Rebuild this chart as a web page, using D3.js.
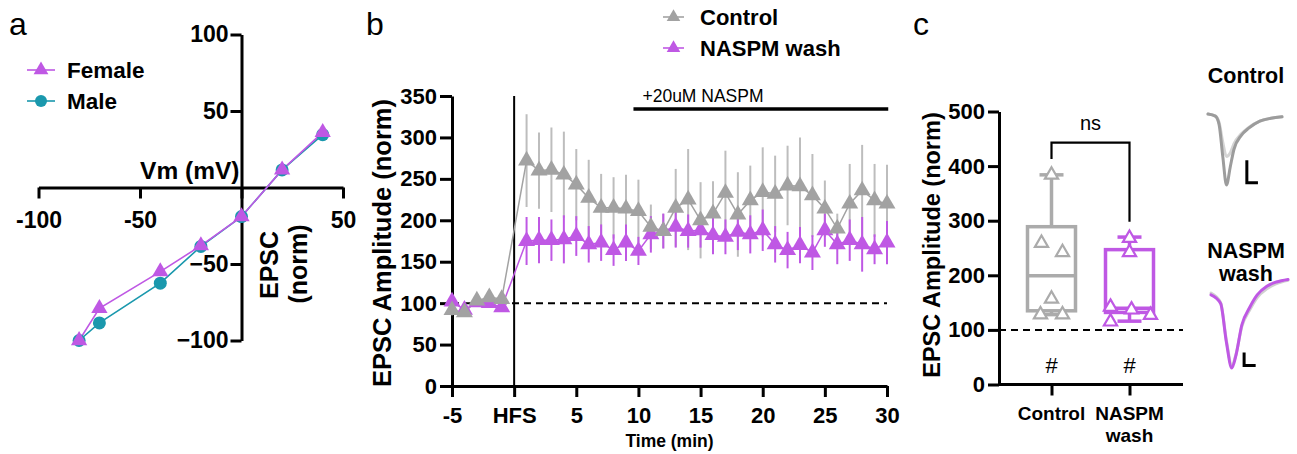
<!DOCTYPE html>
<html>
<head>
<meta charset="utf-8">
<script src="https://cdn.jsdelivr.net/npm/d3@7"></script>
<style>
  body { margin: 0; background: #fff; }
  svg { display: block; }
  text { font-family: "Liberation Sans", Arial, sans-serif; }
</style>
</head>
<body>
<div id="chart"></div>
<script>
// ---- panel a : I-V relation ----
var ivVoltage = [-80, -70, -40, -20, 0, 20, 40];
var ivFemale  = [-100, -79, -55, -38, -19, 11.5, 36];
var ivMale    = [-100, -88.5, -62.5, -38.5, -19, 11.5, 34.5];

// ---- panel b : time course ----
var timeMin = [-5, -4, -3, -2, -1, 1, 2, 3, 4, 5, 6, 7, 8, 9, 10, 11, 12, 13, 14, 15,
               16, 17, 18, 19, 20, 21, 22, 23, 24, 25, 26, 27, 28, 29, 30];
var controlMean = [91.5, 89, 103, 107, 105,
                   272, 260, 261, 255, 243, 227, 215, 215, 214, 211, 192, 187, 215, 225, 200,
                   208, 233, 207, 224, 234, 232, 242, 241, 230, 214, 190, 220, 236, 224, 220];
var controlErr  = [6, 5, 5, 6, 6,
                   56, 46, 51, 52, 43, 46, 41, 37, 41, 38, 27, 21, 47, 61, 46,
                   39, 51, 51, 42, 54, 46, 48, 59, 50, 34, 18, 48, 55, 44, 47];
var naspmMean   = [102, 92, 101, 100, 95,
                   175, 176, 176, 177, 181, 171, 173, 164, 173, 163, 183, 187, 192, 187, 188,
                   182, 180, 186, 183, 188, 171, 164, 170, 161, 188, 171, 176, 171, 165, 173];
var naspmErr    = [8, 4, 4, 4, 5,
                   29, 28, 25, 29, 24, 22, 22, 19, 22, 17, 22, 21, 25, 20, 21,
                   23, 21, 22, 23, 25, 22, 22, 22, 21, 20, 24, 25, 33, 18, 26];
var timeTicks = [-5, 0, 5, 10, 15, 20, 25, 30];
var naspmPeriod = [9.6, 30.1];

// ---- panel c : box plots ----
var groups = ["Control", "NASPM wash"];
var groupPoints = [[384, 259, 242, 157, 128, 128], [268, 242, 142, 115, 137, 127]];
var boxMin = [128, 116];
var boxQ1  = [135, 132];
var boxMed = [199, 139.5];
var boxQ3  = [289, 247];
var boxMax = [384, 270];
var bracketTop = 443;
var bracketLegs = [413, 298];

// ---- example traces (normalised current vs ms) ----
var traceT = [0, 2, 3, 4, 5, 6, 7, 9, 11, 14, 17, 20];
var ctrlTraceA = [0, -0.03, -0.15, -0.6, -1.0, -0.75, -0.5, -0.3, -0.2, -0.1, -0.06, -0.04];
var ctrlTraceB = [0, -0.03, -0.12, -0.4, -0.6, -0.55, -0.42, -0.28, -0.19, -0.1, -0.06, -0.04];
var naspmTraceT = [0, 2.5, 4, 5.4, 6.5, 8, 10, 12, 14.5, 17, 20];
var naspmTraceA = [-0.15, -0.25, -0.7, -1.0, -0.85, -0.5, -0.3, -0.15, -0.05, 0.0, 0.03];
var naspmTraceB = [-0.13, -0.24, -0.68, -0.97, -0.84, -0.52, -0.33, -0.18, -0.08, -0.02, 0.02];

var purple = "#bf58e4", teal = "#1a98ad", grey = "#a2a2a2", greyLight = "#bdbdbd", greyBox = "#ababab";
var font = "'Liberation Sans', Arial, sans-serif";

var svg = d3.select("#chart").append("svg")
  .attr("width", 1297)
  .attr("height", 454);

function styleAxis(g, size) {
  g.attr("font-family", font).attr("font-size", size).attr("font-weight", "bold");
  g.selectAll("path.domain").attr("stroke-width", 3).attr("stroke", "#000");
  g.selectAll(".tick line").attr("stroke-width", 3).attr("stroke", "#000");
  g.selectAll(".tick text").attr("fill", "#000");
}

var tri = d3.symbol().type(d3.symbolTriangle);

// panel letters
[["a", 9], ["b", 366], ["c", 913]].forEach(function(p) {
  svg.append("text").attr("x", p[1]).attr("y", 35)
    .attr("font-size", 32).text(p[0]);
});

// =========== panel a ===========
var xa = d3.scaleLinear().domain([-100, 50]).range([38.5, 343]);
var ya = d3.scaleLinear().domain([-100, 100]).range([340.5, 34.5]);

svg.append("g")
  .attr("transform", "translate(0," + ya(0) + ")")
  .call(d3.axisBottom(xa).tickValues([-100, -50, 0, 50]).tickSize(11).tickSizeOuter(0).tickPadding(13)
    .tickFormat(function(d) { return d === 0 ? "" : d; }))
  .call(styleAxis, 23);

svg.append("g")
  .attr("transform", "translate(" + xa(0) + ",0)")
  .call(d3.axisLeft(ya).tickValues([-100, -50, 50, 100]).tickSize(11).tickSizeOuter(0).tickPadding(2))
  .call(styleAxis, 23);

svg.append("text").attr("x", xa(0) - 2).attr("y", ya(0) - 9)
  .attr("text-anchor", "end").attr("font-size", 24.5).attr("font-weight", "bold")
  .text("Vm (mV)");
svg.append("text").attr("transform", "translate(278," + 265 + ") rotate(-90)")
  .attr("text-anchor", "middle").attr("font-size", 25).attr("font-weight", "bold").text("EPSC");
svg.append("text").attr("transform", "translate(307," + 264 + ") rotate(-90)")
  .attr("text-anchor", "middle").attr("font-size", 25).attr("font-weight", "bold").text("(norm)");

var lineA = d3.line().x(function(d, i) { return xa(ivVoltage[i]); }).y(function(d) { return ya(d); });
svg.append("path").datum(ivMale).attr("d", lineA).attr("fill", "none").attr("stroke", teal).attr("stroke-width", 1.6);
svg.append("path").datum(ivFemale).attr("d", lineA).attr("fill", "none").attr("stroke", purple).attr("stroke-width", 1.6);
svg.selectAll(".maleDot").data(ivMale).enter().append("circle")
  .attr("cx", function(d, i) { return xa(ivVoltage[i]); })
  .attr("cy", function(d) { return ya(d); })
  .attr("r", 6.5).attr("fill", teal);
svg.selectAll(".femTri").data(ivFemale).enter().append("path")
  .attr("d", tri.size(115))
  .attr("transform", function(d, i) { return "translate(" + xa(ivVoltage[i]) + "," + ya(d) + ")"; })
  .attr("fill", purple);

// legend a
[["Female", purple, 70, "tri"], ["Male", teal, 101, "dot"]].forEach(function(l) {
  svg.append("line").attr("x1", 27).attr("x2", 55).attr("y1", l[2]).attr("y2", l[2])
    .attr("stroke", l[1]).attr("stroke-width", 1.6);
  if (l[3] === "tri") {
    svg.append("path").attr("d", tri.size(95)).attr("transform", "translate(41," + l[2] + ")").attr("fill", l[1]);
  } else {
    svg.append("circle").attr("cx", 41).attr("cy", l[2]).attr("r", 6).attr("fill", l[1]);
  }
  svg.append("text").attr("x", 67).attr("y", l[2] + 8).attr("font-size", 22.5)
    .attr("font-weight", "bold").text(l[0]);
});

// =========== panel b ===========
var xb = d3.scaleLinear().domain([-5, 30]).range([452, 887]);
var yb = d3.scaleLinear().domain([0, 350]).range([386, 96]);

svg.append("g")
  .attr("transform", "translate(0," + yb(0) + ")")
  .call(d3.axisBottom(xb).tickValues(timeTicks).tickSize(11).tickSizeOuter(0).tickPadding(10)
    .tickFormat(function(d) { return d === 0 ? "HFS" : d; }))
  .call(styleAxis, 22);
svg.append("g")
  .attr("transform", "translate(" + xb(-5) + ",0)")
  .call(d3.axisLeft(yb).tickValues(d3.range(0, 351, 50)).tickSize(12).tickSizeOuter(0).tickPadding(3))
  .call(styleAxis, 22);

svg.append("text").attr("transform", "translate(391," + 243 + ") rotate(-90)")
  .attr("text-anchor", "middle").attr("font-size", 25.5).attr("font-weight", "bold")
  .text("EPSC Amplitude (norm)");
svg.append("text").attr("x", xb(12.5)).attr("y", 447)
  .attr("text-anchor", "middle").attr("font-size", 17.5).attr("font-weight", "bold")
  .text("Time (min)");

// HFS marker and baseline
svg.append("line").attr("x1", xb(0)).attr("x2", xb(0)).attr("y1", yb(350)).attr("y2", yb(0))
  .attr("stroke", "#000").attr("stroke-width", 2);
svg.append("line").attr("x1", xb(-5)).attr("x2", xb(30)).attr("y1", yb(100)).attr("y2", yb(100))
  .attr("stroke", "#000").attr("stroke-width", 2).attr("stroke-dasharray", "7,5");

// NASPM bar
svg.append("line").attr("x1", xb(naspmPeriod[0])).attr("x2", xb(naspmPeriod[1]))
  .attr("y1", 109).attr("y2", 109).attr("stroke", "#000").attr("stroke-width", 3.5);
svg.append("text").attr("x", xb(naspmPeriod[0]) + 9).attr("y", 102)
  .attr("font-size", 17.5).text("+20uM NASPM");

function drawSeries(mean, err, color, barColor) {
  var g = svg.append("g");
  g.selectAll("line.err").data(mean).enter().append("line")
    .attr("x1", function(d, i) { return xb(timeMin[i]); })
    .attr("x2", function(d, i) { return xb(timeMin[i]); })
    .attr("y1", function(d, i) { return yb(d - err[i]); })
    .attr("y2", function(d, i) { return yb(d + err[i]); })
    .attr("stroke", barColor).attr("stroke-width", 2);
  return g;
}
function drawLine(mean, color) {
  svg.append("path").datum(mean)
    .attr("d", d3.line().x(function(d, i) { return xb(timeMin[i]); }).y(function(d) { return yb(d); }))
    .attr("fill", "none").attr("stroke", color).attr("stroke-width", 1.5);
}
function drawMarkers(mean, color) {
  svg.append("g").selectAll("path").data(mean).enter().append("path")
    .attr("d", tri.size(125))
    .attr("transform", function(d, i) { return "translate(" + xb(timeMin[i]) + "," + yb(d) + ")"; })
    .attr("fill", color);
}
drawSeries(controlMean, controlErr, grey, greyLight);
drawSeries(naspmMean, naspmErr, purple, purple);
drawLine(naspmMean, purple);
drawLine(controlMean, grey);
drawMarkers(naspmMean, purple);
drawMarkers(controlMean, grey);

// legend b
[["Control", grey, 17], ["NASPM wash", purple, 48]].forEach(function(l) {
  svg.append("line").attr("x1", 663).attr("x2", 684).attr("y1", l[2]).attr("y2", l[2])
    .attr("stroke", l[1]).attr("stroke-width", 1.6);
  svg.append("path").attr("d", tri.size(80)).attr("transform", "translate(673.5," + l[2] + ")").attr("fill", l[1]);
  svg.append("text").attr("x", 700).attr("y", l[2] + 8).attr("font-size", 22)
    .attr("font-weight", "bold").text(l[0]);
});

// =========== panel c ===========
var xc = d3.scalePoint().domain(groups).range([1051.5, 1129.5]);
var yc = d3.scaleLinear().domain([0, 500]).range([384.5, 111.5]);
var colC = [greyBox, purple];

var axC = svg.append("g")
  .attr("transform", "translate(0," + yc(0) + ")")
  .call(d3.axisBottom(xc).tickSize(11).tickSizeOuter(0).tickFormat(""))
  .call(styleAxis, 18);
axC.select("path.domain").remove();
svg.append("line").attr("x1", 999).attr("x2", 1183).attr("y1", yc(0)).attr("y2", yc(0))
  .attr("stroke", "#000").attr("stroke-width", 3);
svg.append("g")
  .attr("transform", "translate(999,0)")
  .call(d3.axisLeft(yc).tickValues(d3.range(0, 501, 100)).tickSize(11).tickSizeOuter(0).tickPadding(3))
  .call(styleAxis, 22);

svg.append("text").attr("x", xc("Control")).attr("y", 420).attr("text-anchor", "middle")
  .attr("font-size", 19).attr("font-weight", "bold").text("Control");
svg.append("text").attr("x", xc("NASPM wash")).attr("y", 420).attr("text-anchor", "middle")
  .attr("font-size", 19).attr("font-weight", "bold").text("NASPM");
svg.append("text").attr("x", xc("NASPM wash")).attr("y", 442).attr("text-anchor", "middle")
  .attr("font-size", 19).attr("font-weight", "bold").text("wash");

svg.append("text").attr("transform", "translate(940," + 245 + ") rotate(-90)")
  .attr("text-anchor", "middle").attr("font-size", 23.5).attr("font-weight", "bold")
  .text("EPSC Amplitude (norm)");

svg.append("line").attr("x1", 999).attr("x2", 1183).attr("y1", yc(100)).attr("y2", yc(100))
  .attr("stroke", "#000").attr("stroke-width", 2).attr("stroke-dasharray", "7,5");

groups.forEach(function(g, i) {
  var cx = xc(g), col = colC[i], bw = 24, cw = 12;
  var box = svg.append("g").attr("stroke", col).attr("stroke-width", 3.5).attr("fill", "none");
  box.append("line").attr("x1", cx).attr("x2", cx).attr("y1", yc(boxMax[i])).attr("y2", yc(boxQ3[i]));
  box.append("line").attr("x1", cx).attr("x2", cx).attr("y1", yc(boxMin[i])).attr("y2", yc(boxQ1[i]));
  box.append("line").attr("x1", cx - cw).attr("x2", cx + cw).attr("y1", yc(boxMax[i])).attr("y2", yc(boxMax[i]));
  box.append("line").attr("x1", cx - cw).attr("x2", cx + cw).attr("y1", yc(boxMin[i])).attr("y2", yc(boxMin[i]));
  box.append("rect").attr("x", cx - bw).attr("width", bw * 2)
    .attr("y", yc(boxQ3[i])).attr("height", yc(boxQ1[i]) - yc(boxQ3[i]));
  box.append("line").attr("x1", cx - bw).attr("x2", cx + bw).attr("y1", yc(boxMed[i])).attr("y2", yc(boxMed[i]));
  // scattered points
  var offs = i === 0 ? [0, -10, 11, 0, -11, 11] : [0, 0, -19, -19, 2, 21];
  svg.append("g").selectAll("path").data(groupPoints[i]).enter().append("path")
    .attr("d", tri.size(75))
    .attr("transform", function(d, k) { return "translate(" + (cx + offs[k]) + "," + yc(d) + ")"; })
    .attr("fill", "#fff").attr("stroke", col).attr("stroke-width", 2.2);
  svg.append("text").attr("x", cx).attr("y", 373).attr("text-anchor", "middle")
    .attr("font-size", 22).text("#");
});

// significance bracket
svg.append("path")
  .attr("d", "M" + xc(groups[0]) + "," + yc(bracketLegs[0]) + "V" + yc(bracketTop) +
             "H" + xc(groups[1]) + "V" + yc(bracketLegs[1]))
  .attr("fill", "none").attr("stroke", "#000").attr("stroke-width", 2.2);
svg.append("text").attr("x", (xc(groups[0]) + xc(groups[1])) / 2).attr("y", 130)
  .attr("text-anchor", "middle").attr("font-size", 20).text("ns");

// example traces
var xt = d3.scaleLinear().domain([0, 20]).range([1208, 1282]);
var ytCtrl = d3.scaleLinear().domain([-1, 0]).range([185, 114]);
var xtN = d3.scaleLinear().domain([0, 20]).range([1211, 1288]);
var ytN = d3.scaleLinear().domain([-1, 0]).range([368, 282]);
function trace(ts, vs, xs, ys, color, w) {
  svg.append("path").datum(vs)
    .attr("d", d3.line().curve(d3.curveMonotoneX)
      .x(function(d, i) { return xs(ts[i]); }).y(function(d) { return ys(d); }))
    .attr("fill", "none").attr("stroke", color).attr("stroke-width", w)
    .attr("stroke-linejoin", "round").attr("stroke-linecap", "round");
}
trace(traceT, ctrlTraceB, xt, ytCtrl, "#d4d4d4", 3);
trace(traceT, ctrlTraceA, xt, ytCtrl, "#9c9c9c", 3);
trace(naspmTraceT, naspmTraceB, xtN, ytN, "#d0d0d0", 3);
trace(naspmTraceT, naspmTraceA, xtN, ytN, purple, 3);

// scale bars (time ms, normalised amplitude)
function scaleBar(xs, ys, t0, a0, da) {
  svg.append("path")
    .attr("d", "M" + xs(t0) + "," + ys(a0 + da) + "V" + ys(a0) + "H" + xs(t0 + 3))
    .attr("fill", "none").attr("stroke", "#000").attr("stroke-width", 3);
}
scaleBar(xt, ytCtrl, 10.5, -0.97, 0.32);
scaleBar(xtN, ytN, 8.6, -0.97, 0.15);

svg.append("text").attr("x", 1246).attr("y", 83).attr("text-anchor", "middle")
  .attr("font-size", 21.5).attr("font-weight", "bold").text("Control");
svg.append("text").attr("x", 1246).attr("y", 258).attr("text-anchor", "middle")
  .attr("font-size", 21.5).attr("font-weight", "bold").text("NASPM");
svg.append("text").attr("x", 1246).attr("y", 281).attr("text-anchor", "middle")
  .attr("font-size", 21.5).attr("font-weight", "bold").text("wash");
</script>
</body>
</html>
